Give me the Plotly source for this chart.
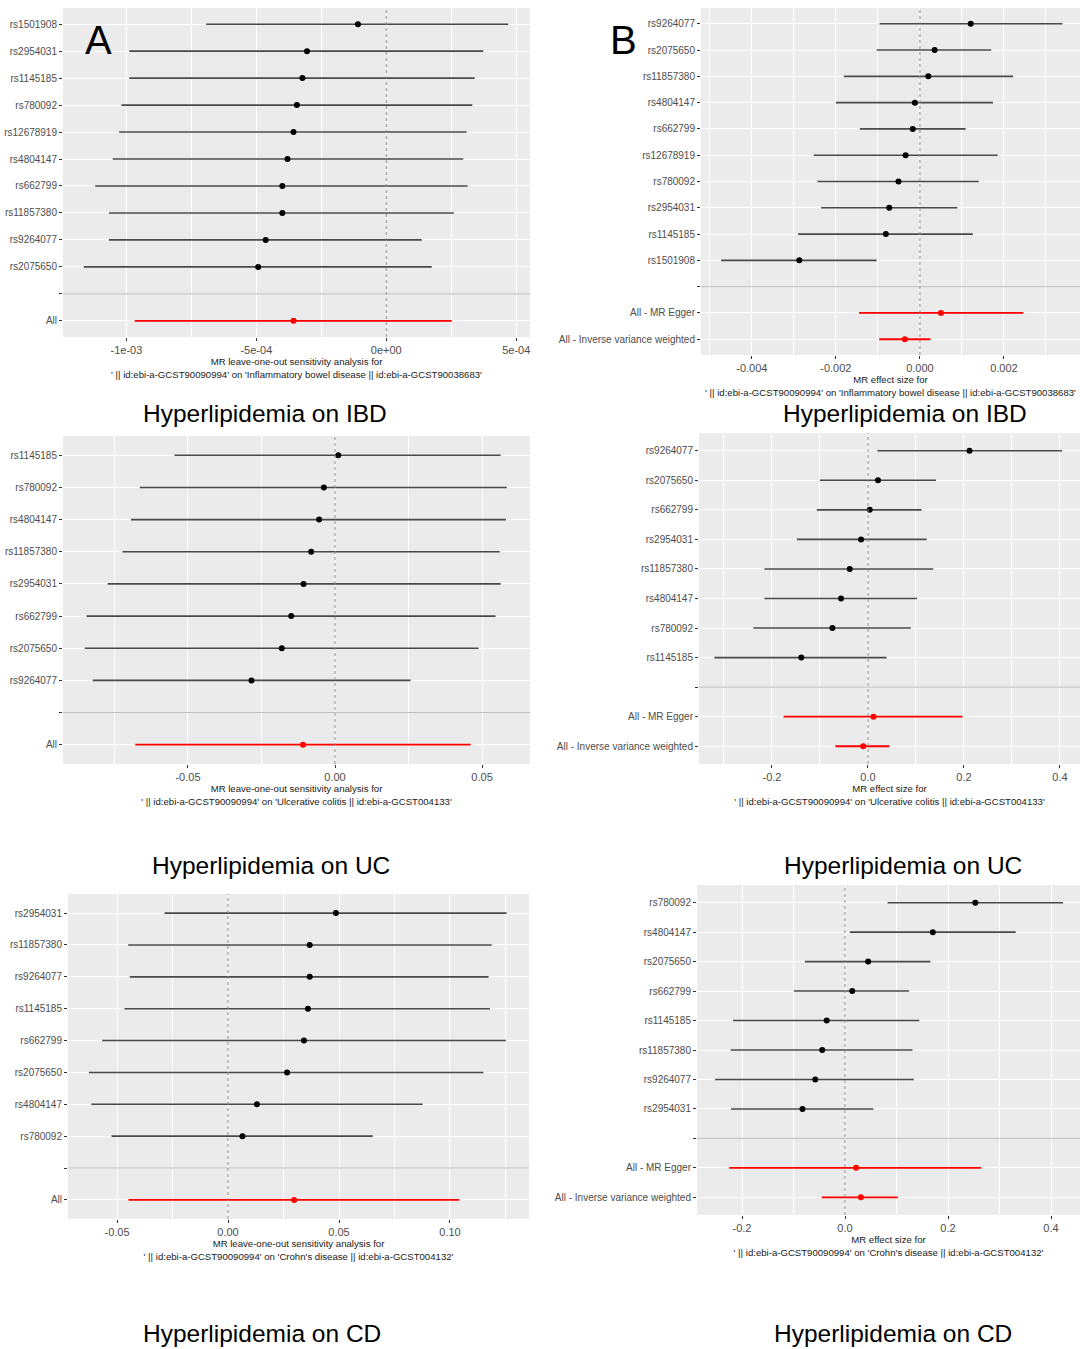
import plotly.graph_objects as go

W, H = 1080, 1349
FONT = "Liberation Sans, Arial, sans-serif"

# ---------------- data ----------------
# Panel A: leave-one-out, IBD
a_snp = ["rs1501908", "rs2954031", "rs1145185", "rs780092", "rs12678919",
         "rs4804147", "rs662799", "rs11857380", "rs9264077", "rs2075650"]
a_b = [-1.09e-4, -3.05e-4, -3.23e-4, -3.44e-4, -3.57e-4, -3.80e-4, -4.00e-4, -4.00e-4, -4.64e-4, -4.93e-4]
a_lo = [-6.93e-4, -9.89e-4, -9.89e-4, -10.19e-4, -10.28e-4, -10.53e-4, -11.20e-4, -10.67e-4, -10.67e-4, -11.64e-4]
a_hi = [4.69e-4, 3.73e-4, 3.40e-4, 3.31e-4, 3.09e-4, 2.96e-4, 3.13e-4, 2.60e-4, 1.36e-4, 1.75e-4]
a_sum_lab = ["All"]
a_sum_b = [-3.57e-4]
a_sum_lo = [-9.68e-4]
a_sum_hi = [2.52e-4]

# Panel B: single SNP, IBD
b_snp = ["rs9264077", "rs2075650", "rs11857380", "rs4804147", "rs662799",
         "rs12678919", "rs780092", "rs2954031", "rs1145185", "rs1501908"]
b_b = [1.21e-3, 0.35e-3, 0.20e-3, -0.12e-3, -0.17e-3, -0.34e-3, -0.51e-3, -0.73e-3, -0.81e-3, -2.87e-3]
b_lo = [-0.96e-3, -1.03e-3, -1.81e-3, -2.00e-3, -1.43e-3, -2.53e-3, -2.44e-3, -2.35e-3, -2.90e-3, -4.73e-3]
b_hi = [3.39e-3, 1.70e-3, 2.22e-3, 1.74e-3, 1.09e-3, 1.85e-3, 1.40e-3, 0.89e-3, 1.26e-3, -1.03e-3]
b_sum_lab = ["All - MR Egger", "All - Inverse variance weighted"]
b_sum_b = [0.50e-3, -0.36e-3]
b_sum_lo = [-1.45e-3, -0.97e-3]
b_sum_hi = [2.46e-3, 0.25e-3]

# Panel C: leave-one-out, UC
c_snp = ["rs1145185", "rs780092", "rs4804147", "rs11857380",
         "rs2954031", "rs662799", "rs2075650", "rs9264077"]
c_b = [0.0011, -0.0038, -0.0054, -0.0081, -0.0107, -0.0149, -0.0181, -0.0284]
c_lo = [-0.0546, -0.0664, -0.0694, -0.0723, -0.0773, -0.0845, -0.0851, -0.0824]
c_hi = [0.0563, 0.0584, 0.0581, 0.0560, 0.0563, 0.0546, 0.0488, 0.0257]
c_sum_lab = ["All"]
c_sum_b = [-0.0109]
c_sum_lo = [-0.0679]
c_sum_hi = [0.0461]

# Panel D: single SNP, UC
d_snp = ["rs9264077", "rs2075650", "rs662799", "rs2954031",
         "rs11857380", "rs4804147", "rs780092", "rs1145185"]
d_b = [0.2115, 0.0209, 0.0036, -0.0144, -0.0380, -0.0561, -0.0741, -0.1388]
d_lo = [0.0194, -0.1000, -0.1065, -0.1480, -0.2158, -0.2158, -0.2388, -0.3200]
d_hi = [0.4040, 0.1417, 0.1115, 0.1223, 0.1360, 0.1022, 0.0892, 0.0388]
d_sum_lab = ["All - MR Egger", "All - Inverse variance weighted"]
d_sum_b = [0.0115, -0.0100]
d_sum_lo = [-0.1760, -0.0680]
d_sum_hi = [0.1970, 0.0446]

# Panel E: leave-one-out, CD
e_snp = ["rs2954031", "rs11857380", "rs9264077", "rs1145185",
         "rs662799", "rs2075650", "rs4804147", "rs780092"]
e_b = [0.0486, 0.0368, 0.0368, 0.0360, 0.0342, 0.0266, 0.0130, 0.0065]
e_lo = [-0.0286, -0.0450, -0.0443, -0.0467, -0.0567, -0.0627, -0.0616, -0.0525]
e_hi = [0.1255, 0.1188, 0.1174, 0.1180, 0.1252, 0.1151, 0.0877, 0.0652]
e_sum_lab = ["All"]
e_sum_b = [0.0298]
e_sum_lo = [-0.0449]
e_sum_hi = [0.1042]

# Panel F: single SNP, CD
f_snp = ["rs780092", "rs4804147", "rs2075650", "rs662799",
         "rs1145185", "rs11857380", "rs9264077", "rs2954031"]
f_b = [0.2530, 0.1705, 0.0450, 0.0141, -0.0356, -0.0443, -0.0577, -0.0826]
f_lo = [0.0826, 0.0094, -0.0779, -0.0993, -0.2174, -0.2221, -0.2523, -0.2215]
f_hi = [0.4235, 0.3315, 0.1658, 0.1242, 0.1443, 0.1309, 0.1336, 0.0550]
f_sum_lab = ["All - MR Egger", "All - Inverse variance weighted"]
f_sum_b = [0.0215, 0.0309]
f_sum_lo = [-0.2248, -0.0450]
f_sum_hi = [0.2644, 0.1027]

# tick labels
a_ticks = [-1e-3, -5e-4, 0, 5e-4]
a_ticktext = ["-1e-03", "-5e-04", "0e+00", "5e-04"]
a_minor = [-7.5e-4, -2.5e-4, 2.5e-4]
b_ticks = [-0.004, -0.002, 0.0, 0.002]
b_ticktext = ["-0.004", "-0.002", "0.000", "0.002"]
b_minor = [-0.005, -0.003, -0.001, 0.001, 0.003]
c_ticks = [-0.05, 0.0, 0.05]
c_ticktext = ["-0.05", "0.00", "0.05"]
c_minor = [-0.075, -0.025, 0.025]
d_ticks = [-0.2, 0.0, 0.2, 0.4]
d_ticktext = ["-0.2", "0.0", "0.2", "0.4"]
d_minor = [-0.3, -0.1, 0.1, 0.3]
e_ticks = [-0.05, 0.0, 0.05, 0.10]
e_ticktext = ["-0.05", "0.00", "0.05", "0.10"]
e_minor = [-0.025, 0.025, 0.075, 0.125]
f_ticks = [-0.2, 0.0, 0.2, 0.4]
f_ticktext = ["-0.2", "0.0", "0.2", "0.4"]
f_minor = [-0.1, 0.1, 0.3]

exposure = "' || id:ebi-a-GCST90090994' on "
out_ibd = "'Inflammatory bowel disease || id:ebi-a-GCST90038683'"
out_uc = "'Ulcerative colitis || id:ebi-a-GCST004133'"
out_cd = "'Crohn's disease || id:ebi-a-GCST004132'"
loo_title = "MR leave-one-out sensitivity analysis for"
mr_title = "MR effect size for"

panel_titles = ["Hyperlipidemia on IBD", "Hyperlipidemia on IBD",
                "Hyperlipidemia on UC", "Hyperlipidemia on UC",
                "Hyperlipidemia on CD", "Hyperlipidemia on CD"]
panel_letters = ["A", "B"]

panels = [
    dict(snp=a_snp, b=a_b, lo=a_lo, hi=a_hi, sl=a_sum_lab, sb=a_sum_b, slo=a_sum_lo, shi=a_sum_hi,
         tv=a_ticks, tt=a_ticktext, mv=a_minor, xt=loo_title + "<br>" + exposure + out_ibd),
    dict(snp=b_snp, b=b_b, lo=b_lo, hi=b_hi, sl=b_sum_lab, sb=b_sum_b, slo=b_sum_lo, shi=b_sum_hi,
         tv=b_ticks, tt=b_ticktext, mv=b_minor, xt=mr_title + "<br>" + exposure + out_ibd),
    dict(snp=c_snp, b=c_b, lo=c_lo, hi=c_hi, sl=c_sum_lab, sb=c_sum_b, slo=c_sum_lo, shi=c_sum_hi,
         tv=c_ticks, tt=c_ticktext, mv=c_minor, xt=loo_title + "<br>" + exposure + out_uc),
    dict(snp=d_snp, b=d_b, lo=d_lo, hi=d_hi, sl=d_sum_lab, sb=d_sum_b, slo=d_sum_lo, shi=d_sum_hi,
         tv=d_ticks, tt=d_ticktext, mv=d_minor, xt=mr_title + "<br>" + exposure + out_uc),
    dict(snp=e_snp, b=e_b, lo=e_lo, hi=e_hi, sl=e_sum_lab, sb=e_sum_b, slo=e_sum_lo, shi=e_sum_hi,
         tv=e_ticks, tt=e_ticktext, mv=e_minor, xt=loo_title + "<br>" + exposure + out_cd),
    dict(snp=f_snp, b=f_b, lo=f_lo, hi=f_hi, sl=f_sum_lab, sb=f_sum_b, slo=f_sum_lo, shi=f_sum_hi,
         tv=f_ticks, tt=f_ticktext, mv=f_minor, xt=mr_title + "<br>" + exposure + out_cd),
]

# ---------------- layout geometry (pixels) ----------------
boxes = [(63, 530, 8, 337), (701, 1080, 8, 355),
         (63, 530, 436, 764), (699, 1080, 433, 764),
         (68, 529, 894, 1219), (697, 1080, 885, 1215)]
xranges = [(-12.44e-4, 5.53e-4), (-5.21e-3, 3.81e-3),
           (-0.0925, 0.0663), (-0.352, 0.4417),
           (-0.0721, 0.1356), (-0.2874, 0.4563)]
title_pos = [(265, 413), (905, 413), (271, 865), (903, 865), (262, 1333), (893, 1333)]
letter_pos = [(98, 40), (624, 40)]

BG = "#EBEBEB"
TICKCOL = "#4D4D4D"
BAR = "#4a4a4a"

fig = go.Figure()
layout = dict(width=W, height=H, margin=dict(l=0, r=0, t=0, b=0),
              paper_bgcolor="white", plot_bgcolor=BG, showlegend=False,
              font=dict(family=FONT, color=TICKCOL), shapes=[], annotations=[])

for i, (p, box, xr) in enumerate(zip(panels, boxes, xranges)):
    k = i + 1
    xa = "x" if k == 1 else f"x{k}"
    ya = "y" if k == 1 else f"y{k}"
    rows = p["snp"] + [" "] + p["sl"]
    n = len(rows)
    # separator line at the blank row
    fig.add_trace(go.Scatter(x=[xr[0], xr[1]], y=[" ", " "], mode="lines",
                             line=dict(color="#BDBDBD", width=1), hoverinfo="skip",
                             xaxis=xa, yaxis=ya))
    # single SNP / leave-one-out estimates
    fig.add_trace(go.Scatter(
        x=p["b"], y=p["snp"], mode="markers",
        marker=dict(color="black", size=6),
        error_x=dict(type="data", symmetric=False,
                     array=[h - b for h, b in zip(p["hi"], p["b"])],
                     arrayminus=[b - l for b, l in zip(p["b"], p["lo"])],
                     width=0, thickness=1.6, color=BAR),
        xaxis=xa, yaxis=ya))
    # overall estimates
    fig.add_trace(go.Scatter(
        x=p["sb"], y=p["sl"], mode="markers",
        marker=dict(color="red", size=6),
        error_x=dict(type="data", symmetric=False,
                     array=[h - b for h, b in zip(p["shi"], p["sb"])],
                     arrayminus=[b - l for b, l in zip(p["sb"], p["slo"])],
                     width=0, thickness=1.8, color="red"),
        xaxis=xa, yaxis=ya))

    l, r, t, b = box
    layout["xaxis" if k == 1 else f"xaxis{k}"] = dict(
        domain=[l / W, r / W], anchor=ya, range=list(xr),
        tickmode="array", tickvals=p["tv"], ticktext=p["tt"],
        ticks="outside", ticklen=3, tickcolor="#333333", tickwidth=1,
        tickfont=dict(size=11, color=TICKCOL, family=FONT),
        showgrid=True, gridcolor="white", gridwidth=1.2,
        minor=dict(tickmode="array", tickvals=p["mv"], showgrid=True,
                   gridcolor="white", gridwidth=0.6, ticks=""),
        zeroline=False, showline=False, automargin=False,
        title=dict(text=p["xt"], font=dict(size=9.6, color="#1a1a1a", family=FONT), standoff=2))
    layout["yaxis" if k == 1 else f"yaxis{k}"] = dict(
        domain=[1 - b / H, 1 - t / H], anchor=xa, type="category",
        categoryorder="array", categoryarray=rows, range=[n - 1 + 0.6, -0.6],
        ticks="outside", ticklen=3, tickcolor="#333333", tickwidth=1,
        tickfont=dict(size=10, color=TICKCOL, family=FONT),
        showgrid=True, gridcolor="white", gridwidth=1.2,
        zeroline=False, showline=False, automargin=False)
    layout["shapes"].append(dict(type="line", xref=xa, yref=f"{ya} domain",
                                 x0=0, x1=0, y0=0, y1=1, layer="above",
                                 line=dict(color="#8c8c8c", width=1, dash="dot")))
    tx, ty = title_pos[i]
    layout["annotations"].append(dict(text=panel_titles[i], x=tx / W, y=1 - ty / H,
                                      xref="paper", yref="paper", showarrow=False,
                                      xanchor="center", yanchor="middle",
                                      font=dict(size=24.5, color="black", family=FONT)))

for (lx, ly), letter in zip(letter_pos, panel_letters):
    layout["annotations"].append(dict(text=letter, x=lx / W, y=1 - ly / H,
                                      xref="paper", yref="paper", showarrow=False,
                                      xanchor="center", yanchor="middle",
                                      font=dict(size=40, color="black", family=FONT)))

fig.update_layout(**layout)
fig.write_html("out.html", config={"displayModeBar": False},
               post_script="document.body.style.margin='0';")
